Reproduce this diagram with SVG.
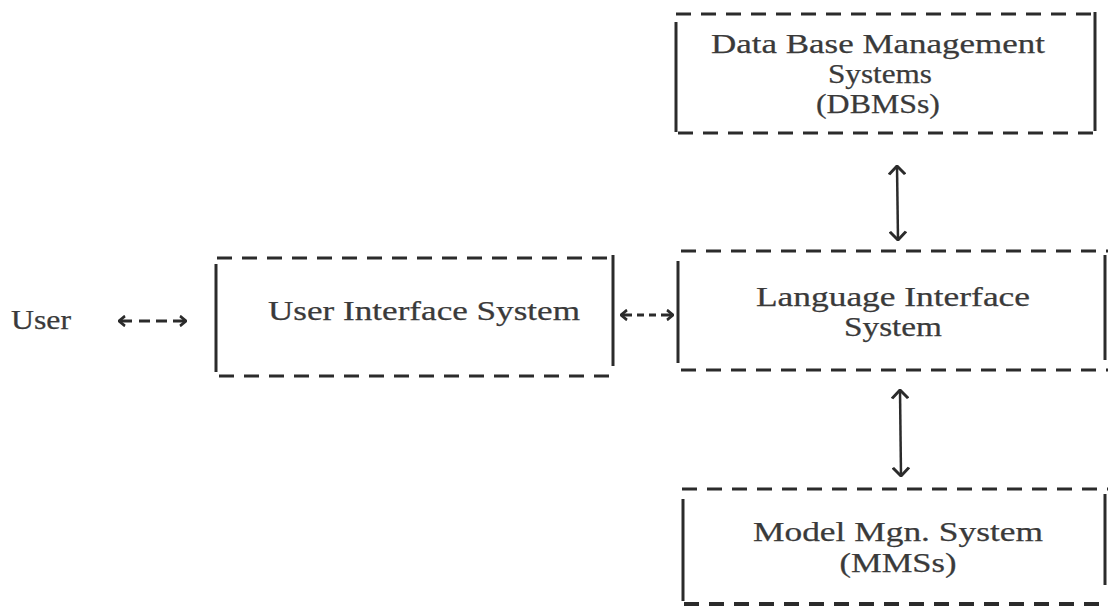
<svg xmlns="http://www.w3.org/2000/svg" width="1108" height="607" viewBox="0 0 1108 607">
<style>
.t{font-family:"Liberation Serif","DejaVu Serif",serif;font-size:27px;fill:#3a3a3a;stroke:#3a3a3a;stroke-width:0.25;text-anchor:middle}
.dash{stroke:#2b2b2b;stroke-width:3;stroke-dasharray:15 10;fill:none}
.solid{stroke:#2b2b2b;stroke-width:3;fill:none}
.conn{stroke:#2b2b2b;stroke-width:2.5;fill:none}
.dconn{stroke:#2b2b2b;stroke-width:3;fill:none}
</style>
<defs>
<marker id="ah" viewBox="0 0 10 10" refX="9" refY="5" markerWidth="10" markerHeight="12" markerUnits="userSpaceOnUse" orient="auto-start-reverse" preserveAspectRatio="none">
<path d="M3,0.8 L9,5 L3,9.2" fill="none" stroke="#2b2b2b" stroke-width="2.4"/>
</marker>
<marker id="ahv" viewBox="0 0 10 10" refX="9" refY="5" markerWidth="14" markerHeight="18" markerUnits="userSpaceOnUse" orient="auto-start-reverse" preserveAspectRatio="none">
<path d="M3,0.5 L9,5 L3,9.5" fill="none" stroke="#2b2b2b" stroke-width="1.8"/>
</marker>
</defs>
<rect width="1108" height="607" fill="#ffffff"/>

<g id="user">
<text class="t" x="41" y="329" textLength="60" lengthAdjust="spacingAndGlyphs">User</text>
</g>

<g id="uis">
<line class="dash" x1="217" y1="258" x2="613" y2="258"/>
<line class="dash" x1="219" y1="376" x2="613" y2="376"/>
<line class="solid" x1="216" y1="264" x2="216" y2="372"/>
<line class="solid" x1="613" y1="255" x2="613" y2="366"/>
<text class="t" x="424" y="320" textLength="312" lengthAdjust="spacingAndGlyphs">User Interface System</text>
</g>

<g id="dbms">
<line class="dash" x1="676" y1="14" x2="1097" y2="14"/>
<line class="dash" x1="678" y1="133" x2="1095" y2="133"/>
<line class="solid" x1="676" y1="22" x2="676" y2="132"/>
<line class="solid" x1="1095" y1="12" x2="1095" y2="131"/>
<text class="t" x="878" y="53" textLength="334" lengthAdjust="spacingAndGlyphs">Data Base Management</text>
<text class="t" x="880" y="83" textLength="104" lengthAdjust="spacingAndGlyphs">Systems</text>
<text class="t" x="878" y="113" textLength="124" lengthAdjust="spacingAndGlyphs">(DBMSs)</text>
</g>

<g id="lis">
<line class="dash" x1="681" y1="251" x2="1108" y2="251"/>
<line class="dash" x1="681" y1="370" x2="1108" y2="370"/>
<line class="solid" x1="678" y1="261" x2="678" y2="363"/>
<line class="solid" x1="1105" y1="255" x2="1105" y2="360"/>
<text class="t" x="893" y="306" textLength="274" lengthAdjust="spacingAndGlyphs">Language Interface</text>
<text class="t" x="893" y="336" textLength="98" lengthAdjust="spacingAndGlyphs">System</text>
</g>

<g id="mms">
<line class="dash" x1="682" y1="489" x2="1108" y2="489"/>
<line class="dash" x1="684" y1="604" x2="1108" y2="604" style="stroke-width:4"/>
<line class="solid" x1="683" y1="499" x2="683" y2="601"/>
<line class="solid" x1="1105" y1="494" x2="1105" y2="585"/>
<text class="t" x="898" y="541" textLength="290" lengthAdjust="spacingAndGlyphs">Model Mgn. System</text>
<text class="t" x="898" y="572" textLength="117" lengthAdjust="spacingAndGlyphs">(MMSs)</text>
</g>

<g id="connectors">
<line class="dconn" x1="119" y1="321" x2="186" y2="321" stroke-dasharray="13 7 11 6 11 6 13 50" marker-start="url(#ah)" marker-end="url(#ah)"/>
<line class="dconn" x1="621" y1="315" x2="673" y2="315" stroke-dasharray="11 5 7 5 7 5 12 50" marker-start="url(#ah)" marker-end="url(#ah)"/>
<line class="conn" x1="897" y1="166" x2="898" y2="240" marker-start="url(#ahv)" marker-end="url(#ahv)"/>
<line class="conn" x1="900" y1="390" x2="901" y2="476" marker-start="url(#ahv)" marker-end="url(#ahv)"/>
</g>
</svg>
